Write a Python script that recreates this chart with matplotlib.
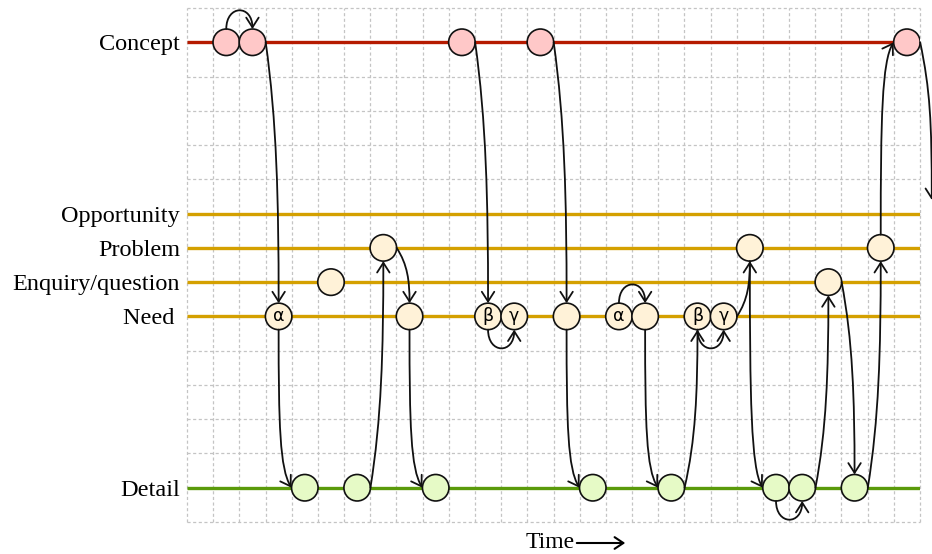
import matplotlib
matplotlib.use("Agg")
import matplotlib.pyplot as plt
from matplotlib.patches import Ellipse, FancyArrowPatch
from matplotlib.path import Path

# ---- data ----
lane_names = ["Concept", "Opportunity", "Problem", "Enquiry/question", "Need ", "Detail"]
lane_levels = [14, 9, 8, 7, 6, 1]
lane_colors = ["#b51a00", "#d4a000", "#d4a000", "#d4a000", "#d4a000", "#5a9a0a"]
lane_ends = [27.5, 28, 28, 28, 28, 28]

concept_x = [1.5, 2.5, 10.5, 13.5, 27.5]
need_x = [3.5, 8.5, 11.5, 12.5, 14.5, 16.5, 17.5, 19.5, 20.5]
need_labels = ["α", "", "β", "γ", "", "α", "", "β", "γ"]
enquiry_x = [5.5, 24.5]
problem_x = [7.5, 21.5, 26.5]
detail_x = [4.5, 6.5, 9.5, 15.5, 18.5, 22.5, 23.5, 25.5]

# arrows: (start x, start lane, start side, end x, end lane, end side)
arrows = [
    (1.5, 14, "top", 2.5, 14, "top"),
    (2.5, 14, "right", 3.5, 6, "top"),
    (3.5, 6, "bottom", 4.5, 1, "left"),
    (6.5, 1, "right", 7.5, 8, "bottom"),
    (7.5, 8, "right", 8.5, 6, "top"),
    (8.5, 6, "bottom", 9.5, 1, "left"),
    (10.5, 14, "right", 11.5, 6, "top"),
    (11.5, 6, "bottom", 12.5, 6, "bottom"),
    (13.5, 14, "right", 14.5, 6, "top"),
    (14.5, 6, "bottom", 15.5, 1, "left"),
    (16.5, 6, "top", 17.5, 6, "top"),
    (17.5, 6, "bottom", 18.5, 1, "left"),
    (18.5, 1, "right", 19.5, 6, "bottom"),
    (19.5, 6, "bottom", 20.5, 6, "bottom"),
    (20.5, 6, "right", 21.5, 8, "bottom"),
    (21.5, 8, "bottom", 22.5, 1, "left"),
    (22.5, 1, "bottom", 23.5, 1, "bottom"),
    (23.5, 1, "right", 24.5, 7, "bottom"),
    (24.5, 7, "right", 25.5, 1, "top"),
    (25.5, 1, "right", 26.5, 8, "bottom"),
    (26.5, 8, "top", 27.5, 14, "left"),
    (27.5, 14, "right", 28.45, 9.4, "end"),
]

NCOL, NROW = 28, 15
fig = plt.figure(figsize=(9.32, 5.54), dpi=100)
ax = fig.add_axes([187 / 932, 1 - 522 / 554, 733 / 932, 514 / 554])
ax.set_xlim(0, NCOL)
ax.set_ylim(0, NROW)
for s in ax.spines.values():
    s.set_visible(False)

# grid
ax.vlines(range(NCOL + 1), 0, NROW, colors="#c4c4c4", linestyles=(0, (2.5, 2)), linewidth=0.9, clip_on=False, zorder=0)
ax.hlines(range(NROW + 1), 0, NCOL, colors="#c4c4c4", linestyles=(0, (2.5, 2)), linewidth=0.9, clip_on=False, zorder=0)

ax.set_xticks([])
ax.set_yticks(lane_levels)
ax.set_yticklabels(lane_names, fontfamily="Liberation Serif", fontsize=17.5)
ax.tick_params(axis="y", length=0, pad=5)

for lvl, col, xe in zip(lane_levels, lane_colors, lane_ends):
    ax.plot([0, xe], [lvl, lvl], color=col, linewidth=2.4, zorder=1, solid_capstyle="butt")

# circle sizes
col_px = 733 / NCOL
row_px = 514 / NROW
diam_px = 26.5
W = diam_px / col_px
H = diam_px / row_px
rx, ry = W / 2, H / 2

def circles(xs, lvl, fill, labels=None):
    for i, x in enumerate(xs):
        ax.add_patch(Ellipse((x, lvl), W, H, facecolor=fill, edgecolor="#111111", linewidth=1.2, zorder=3))
        if labels and labels[i]:
            ax.text(x, lvl, labels[i], ha="center", va="center", fontsize=12.5, fontfamily="DejaVu Sans", zorder=4)

circles(concept_x, 14, "#ffc8c8")
circles(need_x, 6, "#fff2d8", need_labels)
circles(enquiry_x, 7, "#fff2d8")
circles(problem_x, 8, "#fff2d8")
circles(detail_x, 1, "#e6fac6")

def anchor(x, y, side):
    if side == "top":
        return (x, y + ry)
    if side == "bottom":
        return (x, y - ry)
    if side == "right":
        return (x + rx, y)
    if side == "left":
        return (x - rx, y)
    return (x, y)

for (x0, y0, s0, x1, y1, s1) in arrows:
    p0 = anchor(x0, y0, s0)
    p1 = anchor(x1, y1, s1)
    dy = abs(p1[1] - p0[1])
    sgn = 1 if p1[1] > p0[1] else -1
    if s0 == s1 and s0 in ("top", "bottom"):
        k = 0.72 if s0 == "top" else -0.72
        c1 = (p0[0], p0[1] + k)
        c2 = (p1[0], p1[1] + k)
    elif s0 == "right":
        c1 = (p0[0] + (p1[0] - p0[0]) * 0.85, p0[1] + sgn * dy * 0.3)
        if s1 == "end":
            c2 = (p1[0], p1[1] - sgn * dy * 0.5)
        else:
            c2 = (p1[0], p1[1] - sgn * dy * 0.4)
    else:
        c1 = (p0[0], p0[1] + sgn * dy * 0.6)
        c2 = (p1[0] - 0.45, p1[1] - sgn * 0.55)
    path = Path([p0, c1, c2, p1], [Path.MOVETO, Path.CURVE4, Path.CURVE4, Path.CURVE4])
    arr = FancyArrowPatch(path=path, arrowstyle="->,head_length=0.5,head_width=0.32",
                          mutation_scale=14, color="#111111", linewidth=1.3, zorder=5, clip_on=False)
    ax.add_patch(arr)

# x label
fig.text(550 / 932, 1 - 542 / 554, "Time", ha="center", va="center", fontfamily="Liberation Serif", fontsize=17)
fig.add_artist(FancyArrowPatch((574 / 932, 1 - 543 / 554), (628 / 932, 1 - 543 / 554),
                               transform=fig.transFigure, arrowstyle="->,head_length=0.45,head_width=0.3",
                               mutation_scale=14, color="black", linewidth=1.5))

fig.savefig("out.png", dpi=100)
